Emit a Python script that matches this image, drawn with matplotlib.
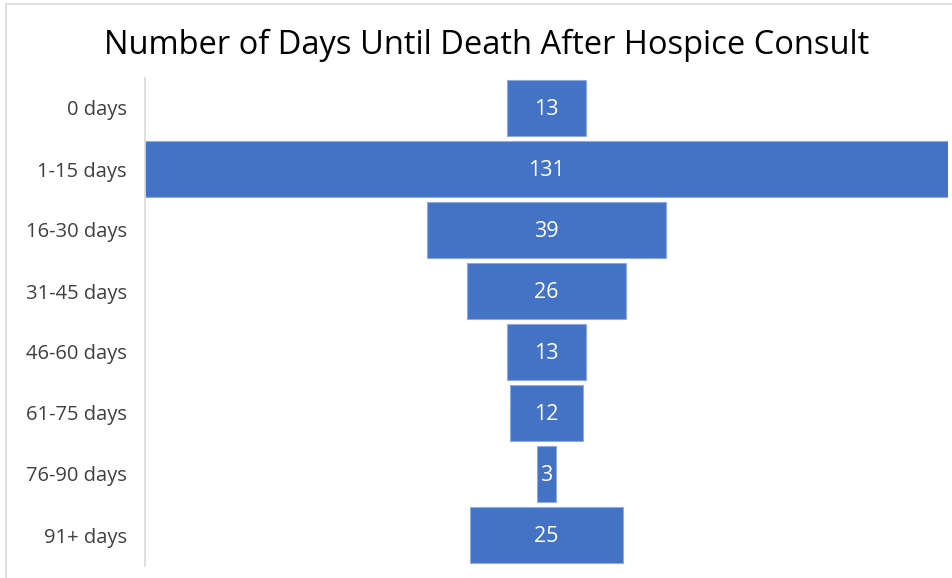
import matplotlib
matplotlib.use("Agg")
import matplotlib.pyplot as plt
from matplotlib.lines import Line2D

CATEGORIES = ["0 days", "1-15 days", "16-30 days", "31-45 days",
              "46-60 days", "61-75 days", "76-90 days", "91+ days"]
COUNTS = [13, 131, 39, 26, 13, 12, 3, 25]

BAR_COLOR = "#4472C4"
TEXT_COLOR = "#404040"

plt.rcParams["font.family"] = ["Open Sans", "DejaVu Sans"]

fig = plt.figure(figsize=(9.52, 5.78), dpi=100)
ax = fig.add_axes([145 / 952, 1 - 565.5 / 578, 803 / 952, 488 / 578])

positions = list(range(len(CATEGORIES)))
lefts = [-c / 2 for c in COUNTS]
ax.barh(positions, COUNTS, left=lefts, height=0.93, color=BAR_COLOR,
        edgecolor="#8faadc", linewidth=0.8)
for pos, count in zip(positions, COUNTS):
    ax.text(0, pos + 0.03, str(count), ha="center", va="center", color="white",
            fontsize=15.5)

ax.set_xlim(-65.5, 65.5)
ax.set_ylim(len(CATEGORIES) - 0.5, -0.5)
ax.set_yticks(positions)
ax.set_yticklabels(CATEGORIES, fontsize=14.5, color=TEXT_COLOR)
ax.set_xticks([])
ax.tick_params(axis="y", length=0, pad=13)
for side in ["top", "right", "bottom"]:
    ax.spines[side].set_visible(False)
ax.spines["left"].set_color("#d9d9d9")
ax.spines["left"].set_linewidth(1.2)

fig.text(487 / 952, 1 - 45 / 578, "Number of Days Until Death After Hospice Consult",
         ha="center", va="center", fontsize=23.5, color="black")

# light frame of the chart area (top and left edges)
fig.add_artist(Line2D([6 / 952, 1], [1 - 4 / 578, 1 - 4 / 578],
                      transform=fig.transFigure, color="#d9d9d9", lw=1.2))
fig.add_artist(Line2D([6 / 952, 6 / 952], [0, 1 - 4 / 578],
                      transform=fig.transFigure, color="#d9d9d9", lw=1.2))

fig.savefig("out.png", dpi=100)
